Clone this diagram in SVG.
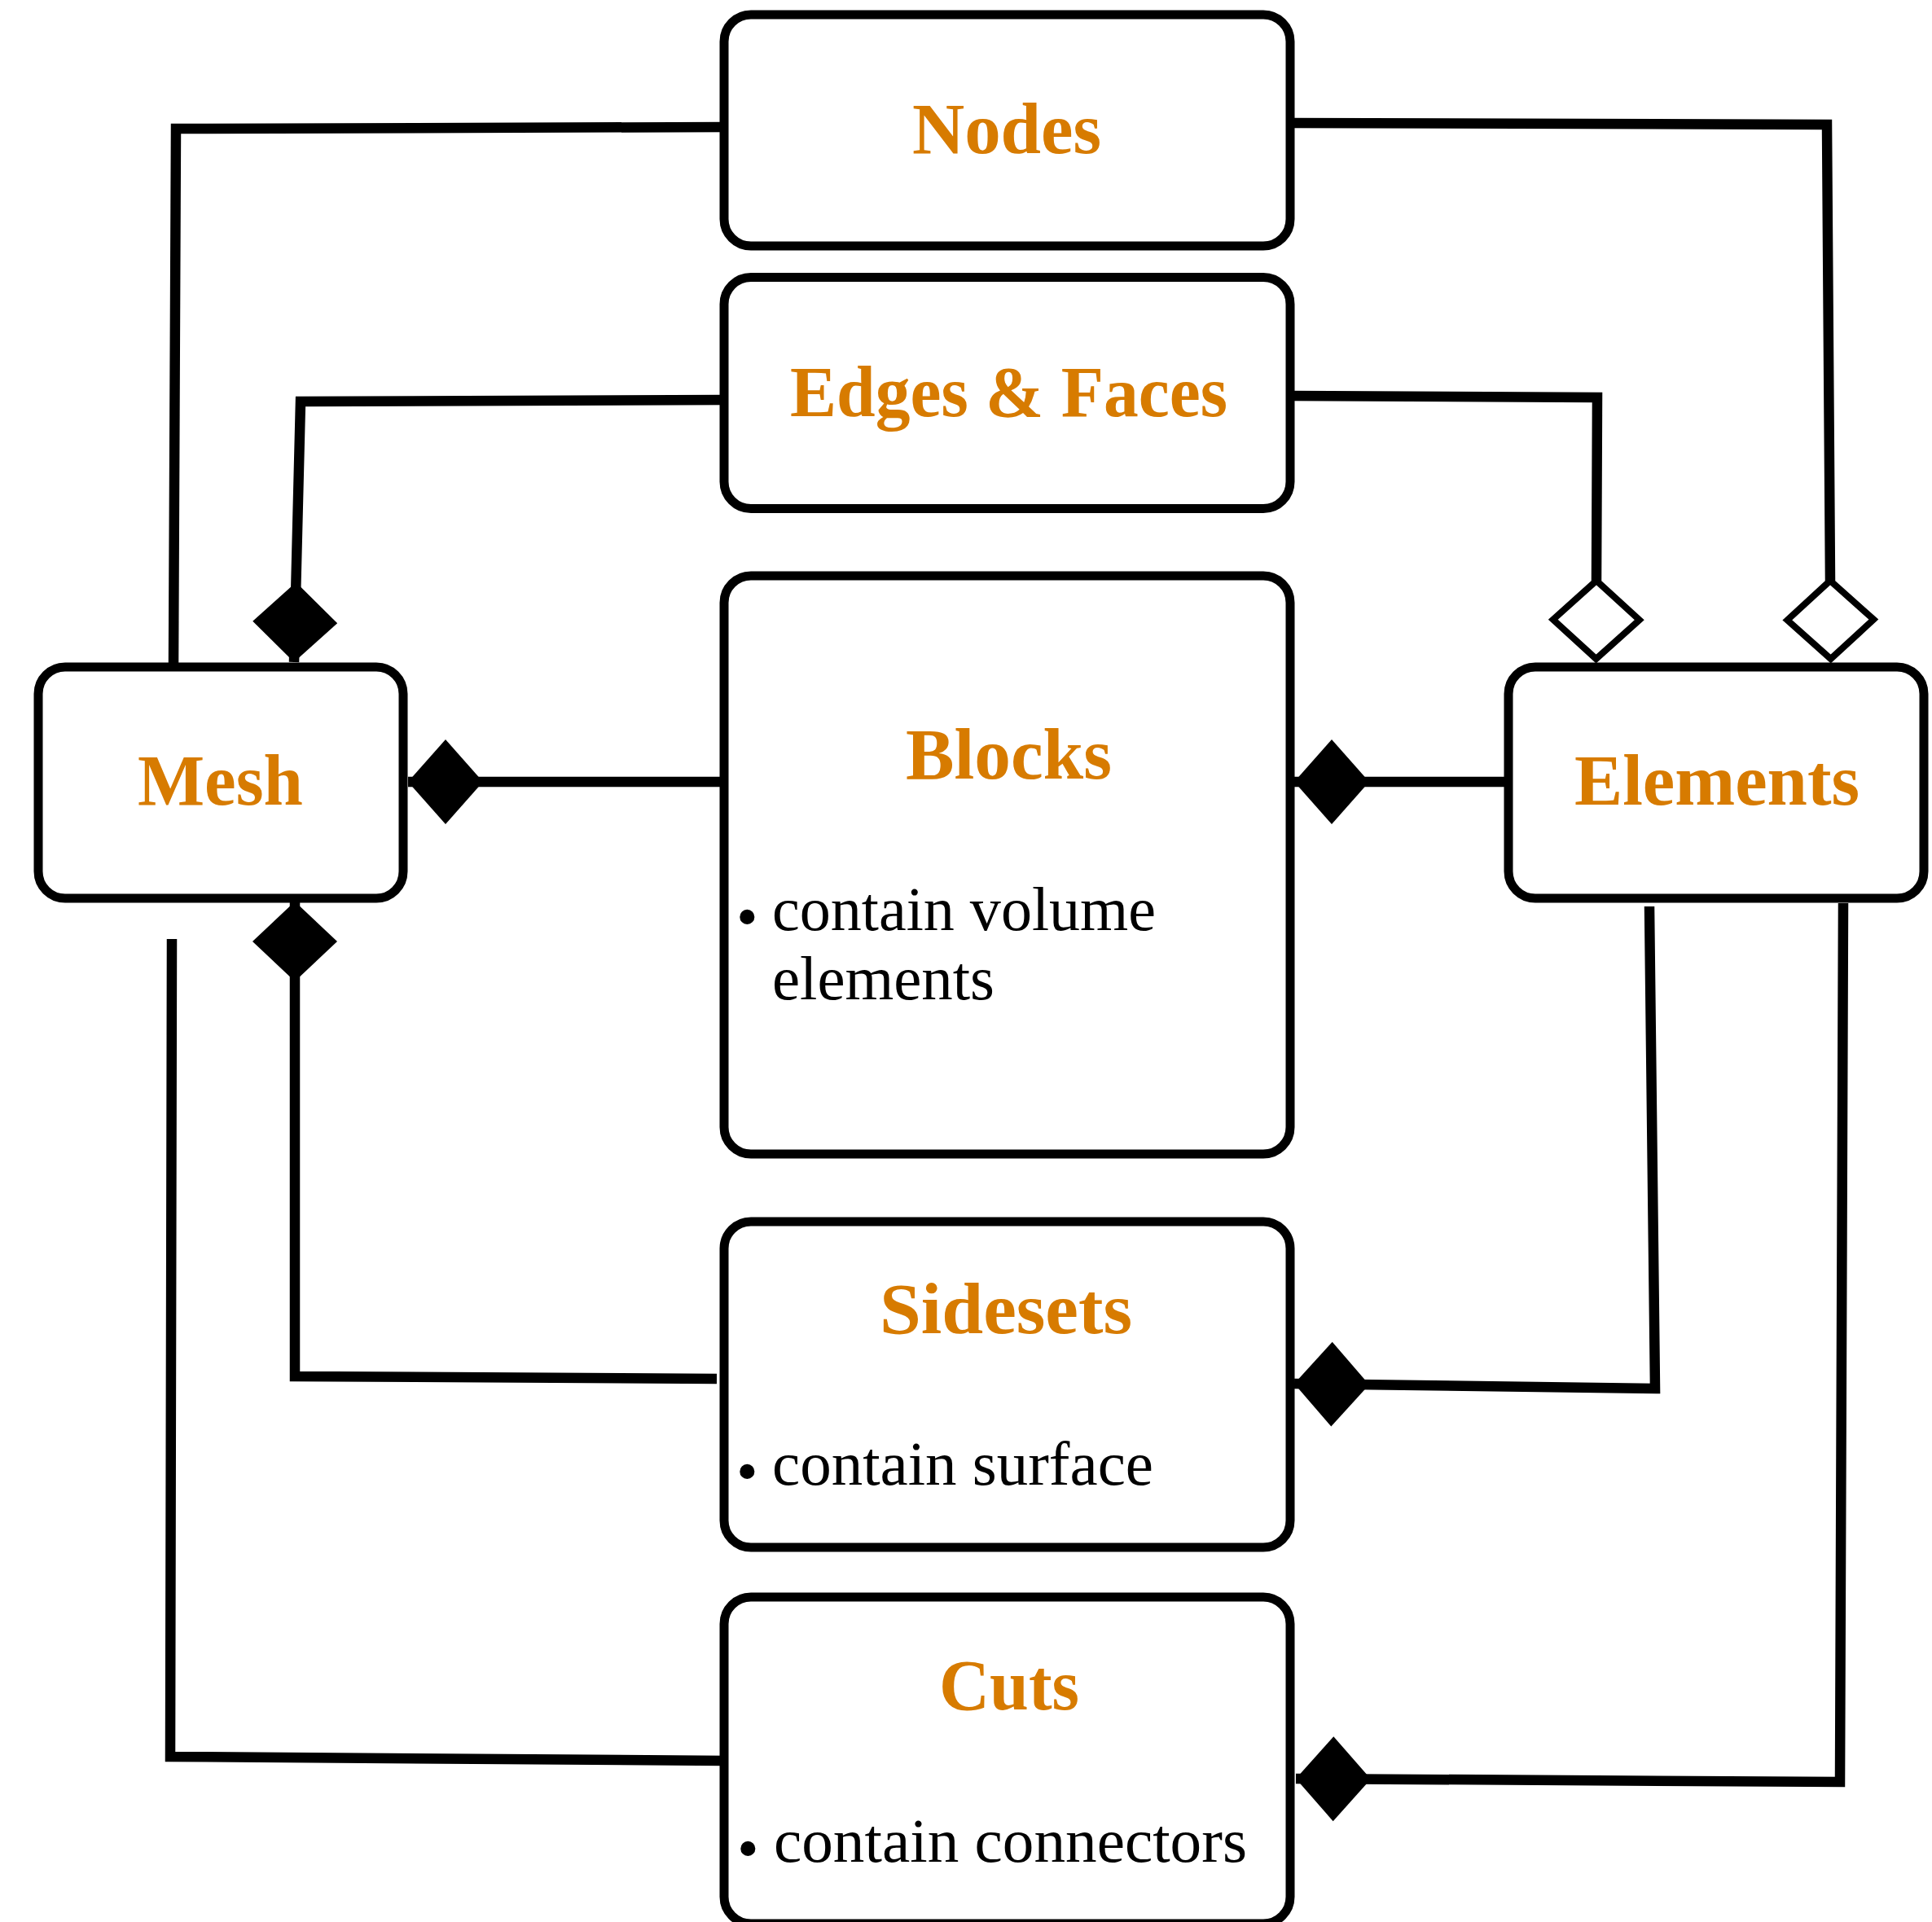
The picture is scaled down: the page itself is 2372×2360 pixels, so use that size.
<svg xmlns="http://www.w3.org/2000/svg" width="2372" height="2360" viewBox="0 0 2372 2360">
  <style>
    .box { fill: #ffffff; stroke: #000000; stroke-width: 11; }
    .link { fill: none; stroke: #000000; stroke-width: 12.5; stroke-linejoin: miter; stroke-linecap: butt; }
    .title { font-family: "Liberation Serif", "DejaVu Serif", serif; font-weight: bold; font-size: 88px; fill: #d77b00; }
    .item { font-family: "Liberation Serif", "DejaVu Serif", serif; font-size: 76px; fill: #000000; }
  </style>
  <defs>
    <!-- composition, horizontal links: filled diamond, tip at the path end -->
    <marker id="diamond-filled" viewBox="-2 -56 96 112" refX="92" refY="0" markerWidth="96" markerHeight="112" markerUnits="userSpaceOnUse" orient="auto">
      <path d="M0,0 L46,-52 L92,0 L46,52 Z" fill="#000000"/>
    </marker>
    <!-- composition, vertical links: slightly longer filled diamond -->
    <marker id="diamond-filled-v" viewBox="-2 -56 102 112" refX="98" refY="0" markerWidth="102" markerHeight="112" markerUnits="userSpaceOnUse" orient="auto">
      <path d="M0,0 L49,-52 L98,0 L49,52 Z" fill="#000000"/>
    </marker>
    <!-- aggregation: hollow diamond, back vertex at the path end -->
    <marker id="diamond-open" viewBox="-8 -62 112 124" refX="0" refY="0" markerWidth="112" markerHeight="124" markerUnits="userSpaceOnUse" orient="auto">
      <path d="M0,0 L48,-53 L96,0 L48,53 Z" fill="#ffffff" stroke="#000000" stroke-width="8" stroke-linejoin="miter"/>
    </marker>
  </defs>

  <rect width="2372" height="2360" fill="#ffffff"/>

  <g id="connectors">
    <!-- Nodes -> Mesh -->
    <path class="link" d="M889,156 L216,158 L213,819"/>
    <!-- Edges & Faces -> Mesh -->
    <path class="link" d="M889,491 L369,493 L361,813" marker-end="url(#diamond-filled-v)"/>
    <!-- Blocks -> Mesh -->
    <path class="link" d="M889,960 L501,960" marker-end="url(#diamond-filled)"/>
    <!-- Sidesets -> Mesh -->
    <path class="link" d="M880,1693 L362,1690 L362,1107" marker-end="url(#diamond-filled-v)"/>
    <!-- Cuts -> Mesh -->
    <path class="link" d="M889,2162 L209,2157 L211,1153"/>
    <!-- Nodes -> Elements -->
    <path class="link" d="M1584,151 L2243,153 L2247,713" marker-end="url(#diamond-open)"/>
    <!-- Edges & Faces -> Elements -->
    <path class="link" d="M1584,486 L1961,488 L1960,713" marker-end="url(#diamond-open)"/>
    <!-- Elements -> Blocks -->
    <path class="link" d="M1852,960 L1589,960" marker-end="url(#diamond-filled)"/>
    <!-- Elements -> Sidesets -->
    <path class="link" d="M2025,1113 L2032,1705 L1589,1699" marker-end="url(#diamond-filled)"/>
    <!-- Elements -> Cuts -->
    <path class="link" d="M2263,1109 L2259,2188 L1591,2184" marker-end="url(#diamond-filled)"/>
  </g>

  <g id="node-nodes">
    <rect class="box" x="889" y="18" width="695" height="284" rx="33" ry="33"/>
    <text class="title" x="1120" y="188" textLength="232" lengthAdjust="spacingAndGlyphs">Nodes</text>
  </g>

  <g id="node-edges-faces">
    <rect class="box" x="889" y="340.5" width="695" height="284" rx="33" ry="33"/>
    <text class="title" x="970" y="511" textLength="537" lengthAdjust="spacingAndGlyphs">Edges &amp; Faces</text>
  </g>

  <g id="node-blocks">
    <rect class="box" x="889" y="707" width="695" height="710" rx="33" ry="33"/>
    <text class="title" x="1112" y="956" textLength="253" lengthAdjust="spacingAndGlyphs">Blocks</text>
    <text class="item" x="904" y="1151">•</text>
    <text class="item" x="948" y="1142" textLength="471" lengthAdjust="spacingAndGlyphs">contain volume</text>
    <text class="item" x="948" y="1227" textLength="273" lengthAdjust="spacingAndGlyphs">elements</text>
  </g>

  <g id="node-sidesets">
    <rect class="box" x="889" y="1500" width="695" height="400" rx="33" ry="33"/>
    <text class="title" x="1080" y="1637" textLength="310" lengthAdjust="spacingAndGlyphs">Sidesets</text>
    <text class="item" x="904" y="1832">•</text>
    <text class="item" x="948" y="1823" textLength="468" lengthAdjust="spacingAndGlyphs">contain surface</text>
  </g>

  <g id="node-cuts">
    <rect class="box" x="889" y="1961" width="695" height="401" rx="33" ry="33"/>
    <text class="title" x="1153" y="2099" textLength="172" lengthAdjust="spacingAndGlyphs">Cuts</text>
    <text class="item" x="905" y="2295">•</text>
    <text class="item" x="950" y="2286" textLength="581" lengthAdjust="spacingAndGlyphs">contain connectors</text>
  </g>

  <g id="node-mesh">
    <rect class="box" x="47" y="819" width="448" height="284" rx="33" ry="33"/>
    <text class="title" x="169" y="988" textLength="203" lengthAdjust="spacingAndGlyphs">Mesh</text>
  </g>

  <g id="node-elements">
    <rect class="box" x="1852" y="819" width="510" height="284" rx="33" ry="33"/>
    <text class="title" x="1933" y="988" textLength="350" lengthAdjust="spacingAndGlyphs">Elements</text>
  </g>
</svg>
